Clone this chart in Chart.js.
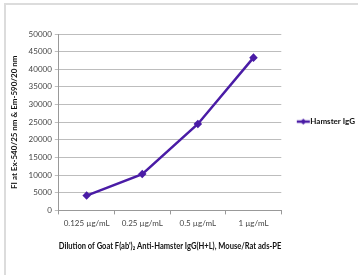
<!DOCTYPE html>
<html>
<head>
<meta charset="utf-8">
<script src="https://cdn.jsdelivr.net/npm/chart.js@4.4.0/dist/chart.umd.min.js"></script>
<style>
  html, body { margin: 0; padding: 0; background: #fff; }
  #wrap { width: 358px; height: 275px; position: relative; }
</style>
</head>
<body>
<div id="wrap"><canvas id="grafico" width="358" height="275"></canvas></div>
<script>
const categorias = ['0.125 µg/mL', '0.25 µg/mL', '0.5 µg/mL', '1 µg/mL'];
const valoresHamster = [4200, 10300, 24500, 43300];
const nombreSerie = 'Hamster IgG';
const tituloY = 'FI at Ex-540/25 nm & Em-590/20 nm';
const tituloX = "Dilution of Goat F(ab')\u2082 Anti-Hamster IgG(H+L), Mouse/Rat ads-PE";

const morado = '#4a1ca6';
const fuente = 'Lato, "Open Sans", sans-serif';

// marcador de leyenda: linea con rombo (la parte izquierda queda transparente)
const marcador = document.createElement('canvas');
marcador.width = 34;
marcador.height = 8;
const mctx = marcador.getContext('2d');
mctx.strokeStyle = morado;
mctx.lineWidth = 2.5;
mctx.beginPath();
mctx.moveTo(19, 4);
mctx.lineTo(32, 4);
mctx.stroke();
mctx.fillStyle = morado;
mctx.beginPath();
mctx.moveTo(25.5, 1);
mctx.lineTo(28.5, 4);
mctx.lineTo(25.5, 7);
mctx.lineTo(22.5, 4);
mctx.closePath();
mctx.fill();

const borde = {
    id: 'borde',
    beforeDraw(chart) {
        const c = chart.ctx;
        c.save();
        c.fillStyle = '#fff';
        c.fillRect(0, 0, chart.width, chart.height);
        c.strokeStyle = '#dcdcdc';
        c.lineWidth = 2;
        c.beginPath();
        c.moveTo(5, chart.height);
        c.lineTo(5, 4);
        c.lineTo(chart.width, 4);
        c.stroke();
        c.restore();
    }
};

const ctx = document.getElementById('grafico').getContext('2d');
new Chart(ctx, {
    type: 'line',
    data: {
        labels: categorias,
        datasets: [{
            label: nombreSerie,
            data: valoresHamster,
            borderColor: morado,
            backgroundColor: morado,
            borderWidth: 2.5,
            pointStyle: 'rectRot',
            pointRadius: 2.5,
            fill: false,
            tension: 0
        }]
    },
    options: {
        responsive: false,
        animation: false,
        layout: { padding: { left: 6, top: 34, right: -7, bottom: 19 } },
        plugins: {
            legend: {
                position: 'right',
                align: 'start',
                title: {
                    display: true,
                    text: '',
                    padding: { top: 0, bottom: 72 },
                    font: { family: fuente, size: 8 }
                },
                labels: {
                    usePointStyle: true,
                    pointStyle: marcador,
                    pointStyleWidth: 23,
                    padding: 2,
                    color: '#111',
                    font: { family: fuente, size: 8, weight: 'bold' }
                }
            },
            tooltip: { enabled: false }
        },
        scales: {
            x: {
                offset: true,
                grid: {
                    display: true,
                    drawOnChartArea: false,
                    offset: true,
                    tickLength: 4,
                    color: '#999'
                },
                border: { color: '#999' },
                ticks: {
                    color: '#444',
                    padding: 4,
                    maxRotation: 0,
                    font: { family: fuente, size: 8 }
                },
                title: {
                    display: true,
                    text: tituloX,
                    color: '#111',
                    padding: { top: 8 },
                    font: { family: fuente, size: 10, weight: 'bold' }
                }
            },
            y: {
                min: 0,
                max: 50000,
                ticks: {
                    stepSize: 5000,
                    color: '#444',
                    padding: 3,
                    font: { family: fuente, size: 8 },
                    callback: v => String(v)
                },
                grid: {
                    color: '#bdbdbd',
                    tickLength: 4
                },
                border: { color: '#999' },
                title: {
                    display: true,
                    text: tituloY,
                    color: '#111',
                    padding: { bottom: 6 },
                    font: { family: fuente, size: 8, weight: 'bold' }
                }
            }
        }
    },
    plugins: [borde]
});
</script>
</body>
</html>
